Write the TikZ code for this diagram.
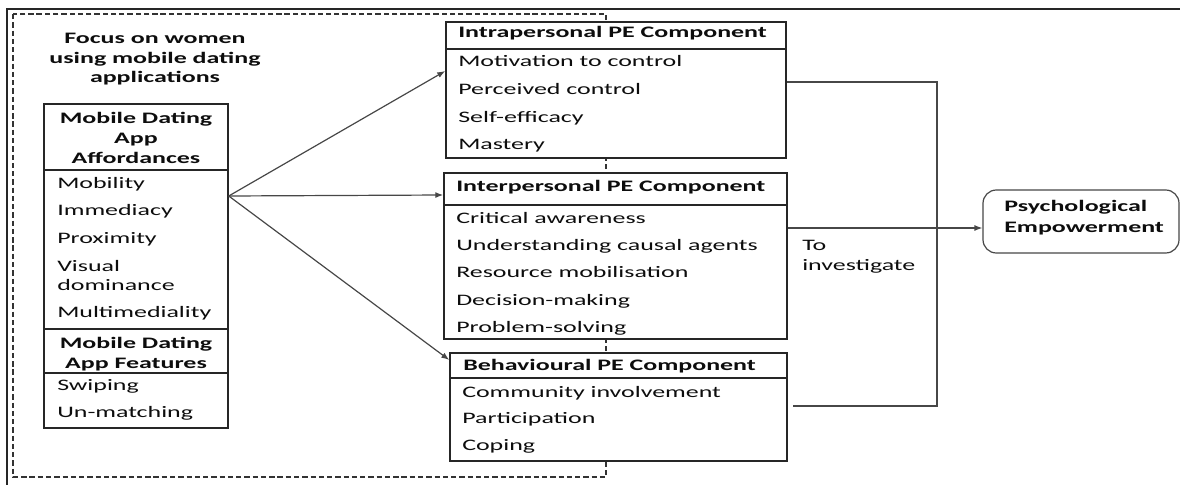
\documentclass[tikz,border=0pt]{standalone}
\usepackage{fontspec}
\setmainfont{Carlito}[FakeStretch=1.62]
\usetikzlibrary{arrows.meta,fit}
\begin{document}
\begin{tikzpicture}[x=0.75pt,y=-0.75pt,
  box/.style={draw=black!85, line width=1.1pt, fill=white, inner sep=0pt},
  txt/.style={inner sep=0pt, text=black!95, font=\fontsize{12}{15}\selectfont},
  item/.style={txt, anchor=base west},
  hdr/.style={txt, anchor=base west, font=\fontsize{12}{15}\selectfont\bfseries},
  chdr/.style={txt, anchor=base, font=\fontsize{12}{15}\selectfont\bfseries},
  conn/.style={draw=black!72, line width=0.9pt},
  arr/.style={conn, -{Latex[length=6pt,width=4.5pt]}},
  dsh/.style={draw=black!80, line width=0.8pt, dash pattern=on 4pt off 2.2pt}]
\useasboundingbox (0,0) rectangle (1180,485);

% outer frame
\draw[line width=1.9pt, black!85] (1180,9) -- (7,9) -- (7,485);
% dashed focus area
\draw[dsh] (13,14) rectangle (606,477);

% focus label
\node[chdr] (f1) at (155,44) {Focus on women};
\node[chdr] (f2) at (155,64) {using mobile dating};
\node[chdr] (f3) at (155,83) {applications};

% left box
\node[box, fit={(44,104) (228,428)}] (aff) {};
\draw[box] (44,170) -- (228,170);
\draw[box] (44,329) -- (228,329);
\draw[box] (44,373) -- (228,373);
\node[chdr] (ah1) at (136,123) {Mobile Dating};
\node[chdr] (ah2) at (136,143) {App};
\node[chdr] (ah3) at (136,163) {Affordances};
\node[item] (a1) at (57,188) {Mobility};
\node[item] (a2) at (57,215) {Immediacy};
\node[item] (a3) at (57,243) {Proximity};
\node[item] (a4) at (57,271) {Visual};
\node[item] (a5) at (57,290) {dominance};
\node[item] (a6) at (57,317) {Multimediality};
\node[chdr] (fh1) at (136,348) {Mobile Dating};
\node[chdr] (fh2) at (136,368) {App Features};
\node[item] (b1) at (57,390) {Swiping};
\node[item] (b2) at (57,417) {Un-matching};

% intrapersonal
\node[box, fit={(446,22) (786,158)}] (intra) {};
\draw[box] (446,49) -- (786,49);
\node[hdr] (ih) at (458,38) {Intrapersonal PE Component};
\node[item] (i1) at (458,67) {Motivation to control};
\node[item] (i2) at (458,94) {Perceived control};
\node[item] (i3) at (458,122) {Self-efficacy};
\node[item] (i4) at (458,149) {Mastery};

% interpersonal
\node[box, fit={(444,173) (787,339)}] (inter) {};
\draw[box] (444,205) -- (787,205);
\node[hdr] (nh) at (456,191) {Interpersonal PE Component};
\node[item] (n1) at (456,223) {Critical awareness};
\node[item] (n2) at (456,250) {Understanding causal agents};
\node[item] (n3) at (456,277) {Resource mobilisation};
\node[item] (n4) at (456,305) {Decision-making};
\node[item] (n5) at (456,332) {Problem-solving};

% behavioural
\node[box, fit={(450,353) (787,461)}] (beh) {};
\draw[box] (450,378) -- (787,378);
\node[hdr] (bh) at (463,370) {Behavioural PE Component};
\node[item] (c1) at (462,397) {Community involvement};
\node[item] (c2) at (462,423) {Participation};
\node[item] (c3) at (462,450) {Coping};

% outcome
\node[box, draw=black!72, line width=0.9pt, rounded corners=10pt, fit={(983,190) (1179,253)}] (psych) {};
\node[hdr] (p1) at (1004,211) {Psychological};
\node[hdr] (p2) at (1004,232) {Empowerment};

\node[item] (t1) at (802,250) {To};
\node[item] (t2) at (802,270) {investigate};

% arrows from affordances
\path (aff.east) ++(0,-70) coordinate (src);
\path (intra.west) ++(0,-19) coordinate (in1);
\path (inter.west) ++(0,-61) coordinate (in2);
\path (beh.west) ++(0,-47) coordinate (in3);
\draw[arr] (src) -- (in1);
\draw[arr] (src) -- (in2);
\draw[arr] (src) -- (in3);

% right connectors
\path (intra.east) ++(0,-8) coordinate (ia);
\path (inter.east) ++(0,-28) coordinate (ie);
\path (beh.east) ++(5,-1) coordinate (be);
\draw[conn] (ia) -| (937,406) -- (be);
\draw[arr] (ie) -- (psych.west |- ie);
\end{tikzpicture}
\end{document}
